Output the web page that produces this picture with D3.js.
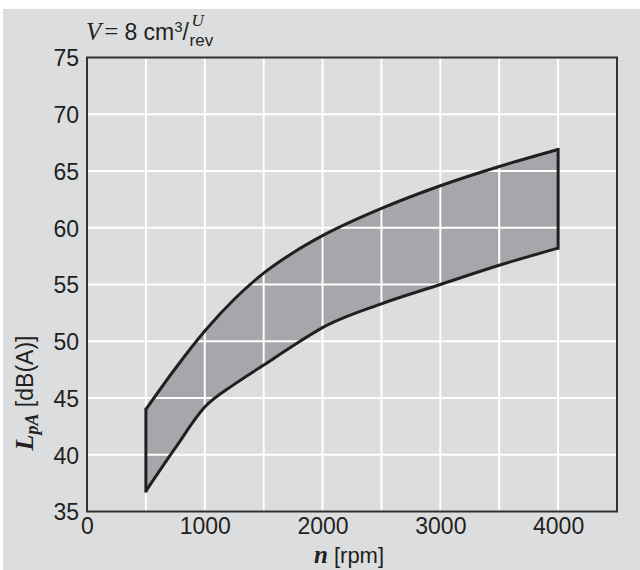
<!DOCTYPE html>
<html>
<head>
<meta charset="utf-8">
<script src="https://cdn.jsdelivr.net/npm/d3@7"></script>
<style>
  html, body { margin: 0; padding: 0; background: #ffffff; }
  svg { display: block; }
</style>
</head>
<body>
<script>
// ---- data ----
const speeds = [500, 750, 1000, 1250, 1500, 1750, 2000, 2500, 3000, 3500, 4000];
const upperLevel = [44.0, 47.6, 50.9, 53.7, 56.0, 57.8, 59.3, 61.7, 63.7, 65.4, 66.9];
const lowerLevel = [36.8, 40.6, 44.2, 46.2, 47.9, 49.6, 51.2, 53.3, 55.0, 56.7, 58.2];
const xTicks = [0, 1000, 2000, 3000, 4000];
const xGrid = [500, 1000, 1500, 2000, 2500, 3000, 3500, 4000];
const yTicks = [35, 40, 45, 50, 55, 60, 65, 70, 75];

(function () {
const W = 640, H = 570;
const svg = d3.select("body").append("svg").attr("width", W).attr("height", H);

svg.append("rect").attr("x", 3).attr("y", 9).attr("width", W - 3).attr("height", H - 9).attr("fill", "#dcdddf");

const pl = 87, pr = 617, pt = 57.5, pb = 511.5;
const x = d3.scaleLinear().domain([0, 4500]).range([pl, pr]);
const y = d3.scaleLinear().domain([35, 75]).range([pb, pt]);

const sans = "'Liberation Sans', Arial, Helvetica, sans-serif";
const serif = "'Liberation Serif', 'Times New Roman', serif";

// band fill
const pts = speeds.map((s, i) => ({ s, u: upperLevel[i], l: lowerLevel[i] }));
const area = d3.area().x(d => x(d.s)).y0(d => y(d.l)).y1(d => y(d.u)).curve(d3.curveMonotoneX);
svg.append("path").datum(pts).attr("d", area).attr("fill", "#a6a7aa");

// grid (drawn over the fill)
svg.append("g").selectAll("line").data(xGrid).join("line")
  .attr("x1", d => x(d)).attr("x2", d => x(d)).attr("y1", pt).attr("y2", pb)
  .attr("stroke", "#ffffff").attr("stroke-width", 2);
svg.append("g").selectAll("line").data(yTicks.slice(1, -1)).join("line")
  .attr("x1", pl).attr("x2", pr).attr("y1", d => y(d)).attr("y2", d => y(d))
  .attr("stroke", "#ffffff").attr("stroke-width", 2);

// outlines
const lineU = d3.line().x(d => x(d.s)).y(d => y(d.u)).curve(d3.curveMonotoneX);
const lineL = d3.line().x(d => x(d.s)).y(d => y(d.l)).curve(d3.curveMonotoneX);
const ink = "#231f20";
svg.append("path").attr("d", lineU(pts)).attr("fill", "none").attr("stroke", ink).attr("stroke-width", 3);
svg.append("path").attr("d", lineL(pts)).attr("fill", "none").attr("stroke", ink).attr("stroke-width", 3);
const n = speeds.length - 1;
[0, n].forEach(i => {
  svg.append("line").attr("x1", x(speeds[i])).attr("x2", x(speeds[i]))
    .attr("y1", y(upperLevel[i])).attr("y2", y(lowerLevel[i]))
    .attr("stroke", ink).attr("stroke-width", 3).attr("stroke-linecap", "square");
});

// frame
svg.append("rect").attr("x", pl).attr("y", pt).attr("width", pr - pl).attr("height", pb - pt)
  .attr("fill", "none").attr("stroke", "#333333").attr("stroke-width", 2);

// axes labels via d3 axes
const xAxis = d3.axisBottom(x).tickValues(xTicks).tickSize(0).tickPadding(0).tickFormat(d3.format("d"));
const gx = svg.append("g").attr("transform", `translate(0,${pb})`).call(xAxis);
gx.select(".domain").remove();
gx.selectAll("text").attr("font-family", sans).attr("font-size", 23).attr("fill", ink)
  .attr("dy", null).attr("y", 22);

const yAxis = d3.axisLeft(y).tickValues(yTicks).tickSize(0).tickPadding(0).tickFormat(d3.format("d"));
const gy = svg.append("g").attr("transform", `translate(${pl - 8},0)`).call(yAxis);
gy.select(".domain").remove();
gy.selectAll("text").attr("font-family", sans).attr("font-size", 23).attr("fill", ink)
  .attr("dy", "0.36em").attr("x", 0);

// title
const title = svg.append("text").attr("x", 86).attr("y", 40).attr("fill", ink).attr("font-size", 23);
title.append("tspan").attr("font-family", serif).attr("font-style", "italic").attr("font-size", 25).text("V");
title.append("tspan").attr("font-family", serif).attr("font-size", 25).attr("dx", 3).text("=");
title.append("tspan").attr("font-family", sans).attr("dx", 6).text("8 cm");
title.append("tspan").attr("font-family", sans).attr("font-size", 15).attr("dy", -8).text("3");
title.append("tspan").attr("font-family", sans).attr("dy", 8).text("/");
const tw = title.node().getBBox().width;
svg.append("text").attr("x", 86 + tw + 2).attr("y", 26).attr("font-family", serif).attr("font-style", "italic")
  .attr("font-size", 17).attr("fill", ink).text("U");
svg.append("text").attr("x", 86 + tw).attr("y", 46).attr("font-family", sans)
  .attr("font-size", 17).attr("fill", ink).text("rev");

// x label
const xl = svg.append("text").attr("x", 349).attr("y", 563).attr("text-anchor", "middle").attr("fill", ink);
xl.append("tspan").attr("font-family", serif).attr("font-style", "italic").attr("font-weight", "bold").attr("font-size", 25).text("n");
xl.append("tspan").attr("font-family", sans).attr("font-size", 22).text(" [rpm]");

// y label
const yl = svg.append("text").attr("transform", "translate(33,393) rotate(-90)").attr("text-anchor", "middle").attr("fill", ink);
yl.append("tspan").attr("font-family", serif).attr("font-style", "italic").attr("font-weight", "bold").attr("font-size", 26).text("L");
yl.append("tspan").attr("font-family", serif).attr("font-style", "italic").attr("font-weight", "bold").attr("font-size", 18).attr("dy", 5).text("pA");
yl.append("tspan").attr("font-family", sans).attr("font-size", 23).attr("dy", -5).text(" [dB(A)]");
})();
</script>
</body>
</html>
